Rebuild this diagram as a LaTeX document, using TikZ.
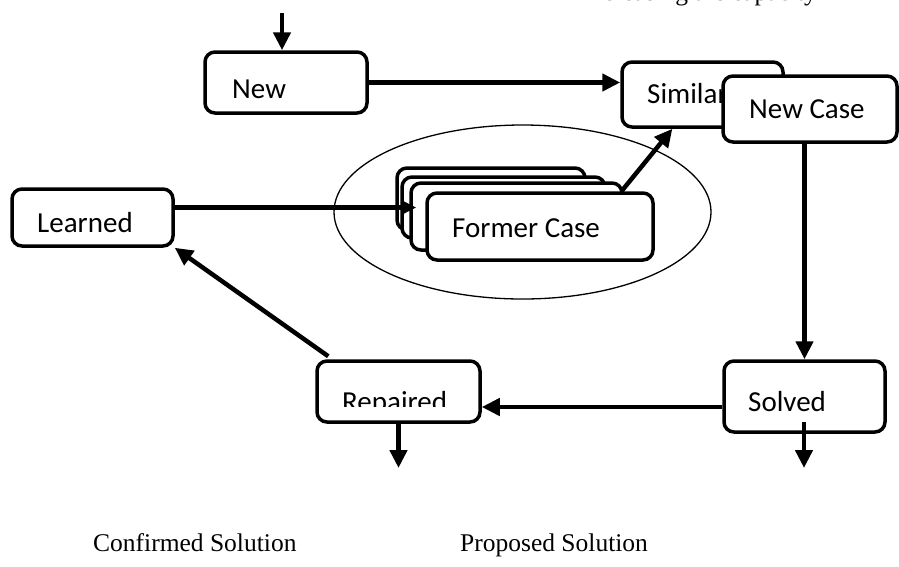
\documentclass[tikz,border=0pt]{standalone}
\usepackage{fontspec}
\setmainfont{Liberation Serif}
\newfontfamily\boxfont{Carlito}
\usetikzlibrary{arrows.meta,shapes.geometric,calc}
\begin{document}
\begin{tikzpicture}[x=1pt,y=-1pt,
  box/.style={draw, line width=3.5pt, rounded corners=10pt, fill=white, inner sep=0pt, rectangle},
  lbl/.style={anchor=base west, inner sep=0pt, font=\boxfont\fontsize{29}{34}\selectfont},
  captxt/.style={anchor=base west, inner sep=0pt, font=\fontsize{25.5}{30}\selectfont},
  conn/.style={line width=4.5pt, -{Triangle[length=18pt,width=17pt]}},
  thinconn/.style={line width=4.5pt, -{Triangle[length=13pt,width=12pt]}},
]
\useasboundingbox (0,0) rectangle (899,566);
% partially visible text at top edge
\node[captxt] (toptext) at (583,0) {increasing the capacity};

% case base ellipse
\node[draw, ellipse, line width=1.3pt, inner sep=0pt, minimum width=377pt, minimum height=174pt] (pool) at (522.5,212) {};

% stacked former cases
\node[box, minimum width=188pt, minimum height=62pt] (b1) at (491,199) {};
\node[box, minimum width=203pt, minimum height=61pt] (b2) at (503.5,207.5) {};
\node[box, minimum width=211pt, minimum height=67pt] (b3) at (516.5,216.5) {};

\node[box, minimum width=161pt, minimum height=57pt] (learned) at (92.5,217.5) {};
\node[lbl] (tlearned) at (37,232) {Learned};
\draw[thinconn, shorten >=-7pt] (learned.east |- b2.center) -- (b3.west |- b2.center);

\node[box, minimum width=226pt, minimum height=67pt] (b4) at (540,226.5) {};
\node[lbl] (tformer) at (452,237) {Former Case};

% New
\coordinate (problem) at (282,13);
\node[box, minimum width=162pt, minimum height=61pt] (new) at (286,82.5) {};
\node[lbl] (tnew) at (232,98) {New};
\draw[conn] (problem) -- (problem |- new.north);

% Similar and New Case
\node[box, minimum width=161pt, minimum height=65pt] (similar) at (702.5,94.5) {};
\node[lbl] (tsimilar) at (647,103) {Similar};
\node[box, minimum width=174pt, minimum height=66pt] (newcase) at (810,109) {};
\node[lbl] (tnewcase) at (749,118) {New Case};
\draw[conn] (new.east) -- (new.east -| similar.west);
\draw[conn] ($(b4.north west)!0.855!(b4.north east)$) -- ($(similar.south west)!0.317!(similar.south east)$);

% Solved and Repaired
\node[box, minimum width=161pt, minimum height=71pt] (solved) at (804.5,396.5) {};
\node[lbl] (tsolved) at (748,411) {Solved};
\node[box, minimum width=163pt, minimum height=61pt] (repaired) at (398.5,391.5) {};
\begin{scope}
  \clip (317,361) rectangle (480,406);
  \node[lbl] (trepaired) at (342,411) {Repaired};
\end{scope}

\draw[conn] (solved.north |- newcase.south) -- (solved.north);
\path ($(solved.west)+(0,10.5)$) coordinate (sw);
\draw[conn] (sw) -- (sw -| repaired.east);
\draw[conn] ($(repaired.north west)+(13,-3)$) -- (learned.south east);

\coordinate (confirmed) at (398.5,468);
\coordinate (proposed) at (804,468);
\draw[conn] (repaired.south) -- (confirmed);
\draw[conn] (proposed |- 0,422) -- (proposed);

% captions
\node[captxt] (tconf) at (93,551) {Confirmed Solution};
\node[captxt] (tprop) at (460,551) {Proposed Solution};
\end{tikzpicture}
\end{document}
